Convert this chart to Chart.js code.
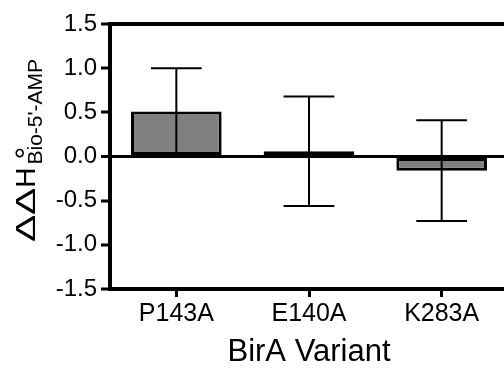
<!DOCTYPE html>
<html>
<head>
<meta charset="utf-8">
<script src="https://cdn.jsdelivr.net/npm/chart.js@4.4.1/dist/chart.umd.min.js"></script>
<style>
  html, body { margin: 0; padding: 0; background: #fff; overflow: hidden; width: 504px; height: 368px; }
  #wrap { position: absolute; left: 0; top: 0; width: 520px; height: 368px; }
  canvas { display: block; }
</style>
</head>
<body>
<div id="wrap"><canvas id="c" width="520" height="368"></canvas></div>
<script>
// ---- data ----
const categories = ['P143A', 'E140A', 'K283A'];
const values = [0.51, 0.06, -0.16];
const errors = [0.49, 0.62, 0.57];
const yTicks = [-1.5, -1.0, -0.5, 0.0, 0.5, 1.0, 1.5];
const xTitle = 'BirA Variant';
const yTitleMain = 'ΔΔH';
const yTitleDeg = '°';
const yTitleSub = "Bio-5'-AMP";

const FONT = "'Liberation Sans', Arial, sans-serif";

const errorBarPlugin = {
  id: 'errorBars',
  afterDatasetsDraw(chart) {
    const ctx = chart.ctx;
    const meta = chart.getDatasetMeta(0);
    const ys = chart.scales.y;
    ctx.save();
    ctx.strokeStyle = '#000';
    ctx.lineWidth = 2;
    meta.data.forEach((bar, i) => {
      const x = bar.x;
      const hi = ys.getPixelForValue(values[i] + errors[i]);
      const lo = ys.getPixelForValue(values[i] - errors[i]);
      const cap = bar.width * 0.28;
      ctx.beginPath();
      ctx.moveTo(x, hi); ctx.lineTo(x, lo);
      ctx.moveTo(x - cap, hi); ctx.lineTo(x + cap, hi);
      ctx.moveTo(x - cap, lo); ctx.lineTo(x + cap, lo);
      ctx.stroke();
    });
    ctx.restore();
  }
};

const framePlugin = {
  id: 'frame',
  afterDraw(chart) {
    const ctx = chart.ctx;
    const a = chart.chartArea;
    ctx.save();
    // top border
    ctx.strokeStyle = '#000';
    ctx.lineWidth = 4;
    ctx.beginPath();
    ctx.moveTo(a.left - 2, a.top);
    ctx.lineTo(a.right, a.top);
    ctx.stroke();
    // y title with subscript, rotated
    ctx.fillStyle = '#000';
    ctx.translate(35, 242);
    ctx.rotate(-Math.PI / 2);
    ctx.textBaseline = 'alphabetic';
    ctx.textAlign = 'left';
    ctx.font = '28px ' + FONT;
    ctx.save();
    ctx.scale(1.45, 1);
    ctx.fillText('ΔΔ', 0, 0);
    const dw = ctx.measureText('ΔΔ').width * 1.45;
    ctx.restore();
    ctx.fillText('H', dw, 0);
    const hw = ctx.measureText('H').width;
    ctx.font = '32px ' + FONT;
    ctx.fillText(yTitleDeg, dw + hw + 8, 2);
    ctx.font = '21px ' + FONT;
    ctx.fillText(yTitleSub, dw + hw + 3, 7);
    ctx.restore();
  }
};

new Chart(document.getElementById('c'), {
  type: 'bar',
  data: {
    labels: categories,
    datasets: [{
      data: values,
      backgroundColor: '#808080',
      borderColor: '#000',
      borderWidth: 3,
      borderSkipped: false,
      categoryPercentage: 1.0,
      barPercentage: 0.683
    }]
  },
  options: {
    responsive: false,
    devicePixelRatio: 1,
    animation: false,
    layout: { padding: { left: 0, right: 12, top: 24, bottom: 0 } },
    plugins: { legend: { display: false }, tooltip: { enabled: false } },
    scales: {
      x: {
        offset: true,
        grid: { offset: false, drawOnChartArea: false, tickLength: 8, tickColor: '#000', tickWidth: 3, color: '#000' },
        border: { display: true, color: '#000', width: 4 },
        ticks: { color: '#000', font: { family: FONT, size: 25 }, padding: 2, maxRotation: 0 },
        title: { display: true, text: xTitle, color: '#000', font: { family: FONT, size: 31, lineHeight: 1 }, padding: { top: 0, bottom: 0 } },
        afterFit(s) { s.height = 79; }
      },
      y: {
        min: yTicks[0],
        max: yTicks[yTicks.length - 1],
        afterBuildTicks(s) { s.ticks = yTicks.map(v => ({ value: v })); },
        grid: {
          drawOnChartArea: true,
          tickLength: 9,
          tickColor: '#000',
          tickWidth: 3,
          lineWidth: (c) => (c.tick && c.tick.value === 0 ? 3 : 0),
          color: (c) => (c.tick && c.tick.value === 0 ? '#000' : 'rgba(0,0,0,0)')
        },
        border: { display: true, color: '#000', width: 4 },
        ticks: { color: '#000', font: { family: FONT, size: 24 }, padding: 4, callback: (v) => Number(v).toFixed(1) },
        afterFit(s) { s.width = 110; }
      }
    }
  },
  plugins: [errorBarPlugin, framePlugin]
});
</script>
</body>
</html>
